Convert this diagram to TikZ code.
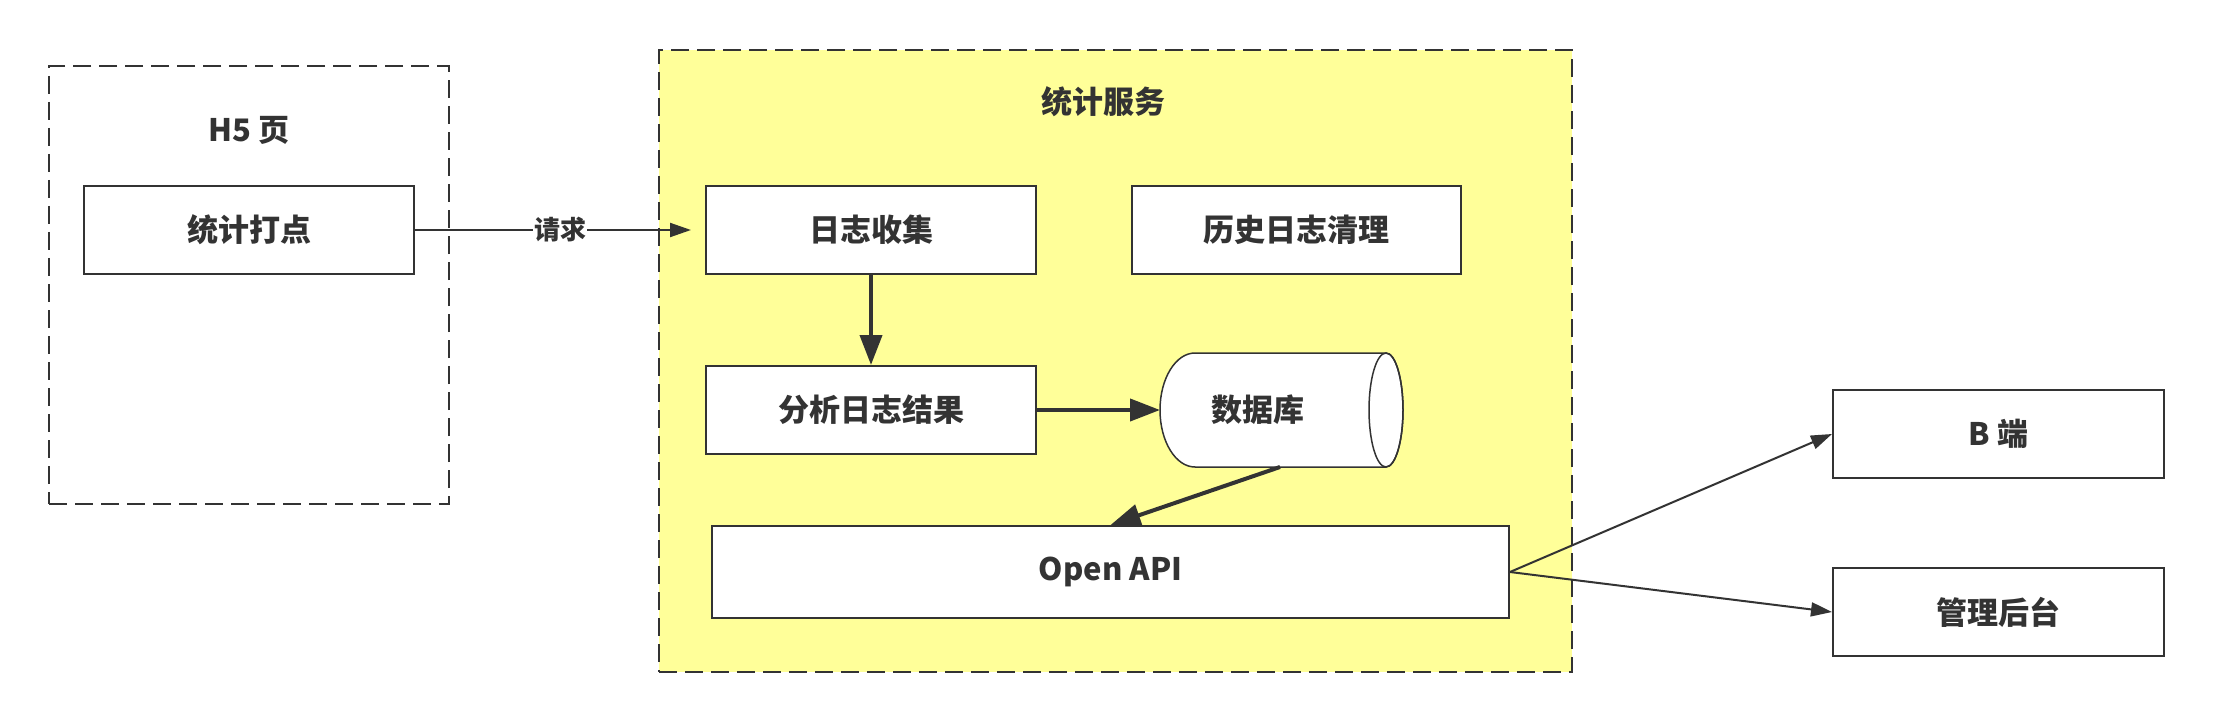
\documentclass[tikz,border=0pt]{standalone}
\usepackage{fontspec}
\setmainfont{Noto Sans CJK SC}
\usetikzlibrary{arrows.meta}
\definecolor{ln}{HTML}{333333}
\definecolor{ylw}{HTML}{FFFF99}
\begin{document}
\begin{tikzpicture}[x=1pt,y=-1pt,
  txt/.style={font=\fontsize{31}{36}\selectfont\bfseries,text=ln},
  box/.style={txt,draw=ln,line width=2pt,fill=white,inner sep=0pt,minimum height=88pt,minimum width=330pt},
  group/.style={draw=ln,line width=2pt,dash pattern=on 18pt off 8pt,inner sep=0pt},
  thickarrow/.style={draw=ln,line width=4pt,-{Triangle[length=30pt,width=22pt]}},
  thinarrow/.style={draw=ln,line width=2pt,-{Triangle[length=21pt,width=14pt]}}]
\useasboundingbox (0,0) rectangle (2214,722);
\fill[white] (0,0) rectangle (2214,722);
% groups
\node[group,minimum width=400pt,minimum height=438pt] (h5) at (249,285) {};
\node[group,fill=ylw,minimum width=913pt,minimum height=622pt] (svc) at (1115.5,361) {};
\node[txt] (h5title) at (249,130) {H5 页};
\node[txt] (svctitle) at (1103,102) {统计服务};
% boxes
\node[box] (dot) at (249,230) {统计打点};
\node[box] (collect) at (871,230) {日志收集};
\node[box,minimum width=329pt] (clean) at (1296.5,230) {历史日志清理};
\node[box] (analyze) at (871,410) {分析日志结果};
\node[box,minimum width=797pt,minimum height=92pt] (api) at (1110.5,572) {Open API};
\node[box,minimum width=331pt] (bend) at (1998.5,434) {B 端};
\node[box,minimum width=331pt] (admin) at (1998.5,612) {管理后台};
% database cylinder
\draw[ln,line width=1.5pt,fill=white] (1386,353) -- (1195,353)
  arc[start angle=-90,end angle=-270,x radius=35,y radius=57] -- (1386,467)
  arc[start angle=90,end angle=-90,x radius=17,y radius=57] -- cycle;
\draw[ln,line width=1.5pt] (1386,410) ellipse[x radius=17,y radius=57];
\node[txt] (db) at (1258,410) {数据库};
\coordinate (dbwest) at (1160,410);
\coordinate (dbsouth) at (1280,467);
% connectors
\draw[thinarrow,shorten >=14pt] (dot.east) -- node[txt,font=\fontsize{26}{30}\selectfont\bfseries,fill=white,inner sep=1pt] (req) {请求} (collect.west);
\draw[thickarrow] (collect.south) -- (analyze.north);
\draw[thickarrow] (analyze.east) -- (dbwest);
\draw[thickarrow] (dbsouth) -- (api.north);
\draw[thinarrow] (api.east) -- (bend.west);
\draw[thinarrow] (api.east) -- (admin.west);
\end{tikzpicture}
\end{document}
